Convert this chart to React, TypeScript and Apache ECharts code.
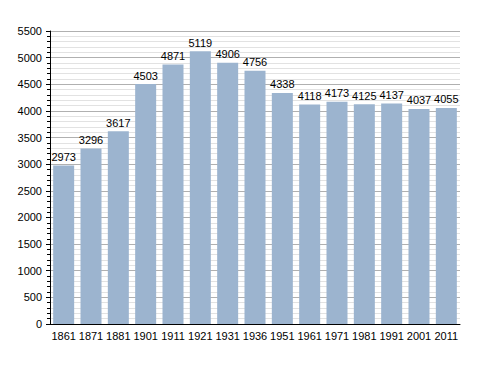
import React, { useEffect, useRef } from "react";
import * as echarts from "echarts";

const years = ["1861","1871","1881","1901","1911","1921","1931","1936","1951","1961","1971","1981","1991","2001","2011"];
const population = [2973,3296,3617,4503,4871,5119,4906,4756,4338,4118,4173,4125,4137,4037,4055];
const yMin = 0;
const yMax = 5500;
const yInterval = 500;

export default function App() {
  const ref = useRef<HTMLDivElement>(null);
  useEffect(() => {
    const chart = echarts.init(ref.current!, null, { renderer: "svg" });
    chart.setOption({
      animation: false,
      grid: { left: 42, right: 28, top: 23, bottom: 41 },
      xAxis: {
        type: "category",
        data: years,
        axisLine: { lineStyle: { color: "#000", width: 1 } },
        axisTick: { show: false },
        axisLabel: { interval: 0, color: "#000", fontSize: 11, fontFamily: "Liberation Sans, Arial", margin: 6 },
      },
      yAxis: {
        type: "value",
        min: yMin,
        max: yMax,
        interval: yInterval,
        axisLine: { show: true, lineStyle: { color: "#000", width: 1 } },
        axisTick: { show: true, length: 4, lineStyle: { color: "#000" } },
        minorTick: { show: true, splitNumber: 5, length: 3, lineStyle: { color: "#000" } },
        axisLabel: { formatter: (v: number) => String(v), color: "#000", fontSize: 11, fontFamily: "Liberation Sans, Arial", margin: 8 },
        splitLine: { show: true, lineStyle: { color: "#b0b0b0", width: 1 } },
        minorSplitLine: { show: true, lineStyle: { color: "#e2e2e2", width: 1 } },
      },
      series: [
        {
          type: "bar",
          data: population,
          barWidth: 21,
          itemStyle: { color: "#9cb4cf" },
          label: {
            show: true,
            position: "top",
            distance: 3,
            color: "#000",
            fontSize: 11,
            fontFamily: "Liberation Sans, Arial",
          },
        },
      ],
    });
    return () => chart.dispose();
  }, []);
  return <div ref={ref} style={{ width: 480, height: 357 }} />;
}
